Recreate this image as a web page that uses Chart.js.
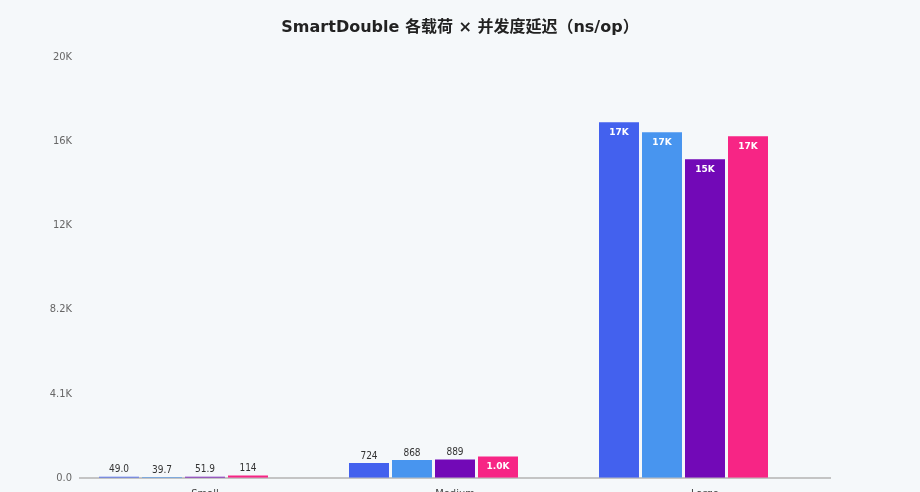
<!DOCTYPE html>
<html>
<head>
<meta charset="utf-8">
<script src="https://cdn.jsdelivr.net/npm/chart.js@4/dist/chart.umd.min.js"></script>
<style>
html,body{margin:0;padding:0;background:#f5f8fa;overflow:hidden;}
#wrap{width:920px;height:503px;}
</style>
</head>
<body>
<div id="wrap"><canvas id="c" width="920" height="503"></canvas></div>
<script>
const categories = ["Small", "Medium", "Large"];
const seriesNames = ["并发 1", "并发 2", "并发 4", "并发 8", "并发 16"];
const series1 = [49.0, 724, 17285];
const series2 = [39.7, 868, 16798];
const series3 = [51.9, 889, 15484];
const series4 = [114, 1030, 16604];
const series5 = [null, null, null];
const colors = ["#4361ee", "#4895ef", "#7209b7", "#f72585", "#3a0ca3"];
const yMax = 20450;

function fmt(v) {
  if (v === 0) return "0.0";
  if (Math.abs(v) >= 1000) return (v / 1000).toPrecision(2) + "K";
  return Number(v).toPrecision(3);
}

const labelPlugin = {
  id: "barLabels",
  afterDatasetsDraw(chart) {
    const ctx = chart.ctx;
    chart.data.datasets.forEach((ds, di) => {
      const meta = chart.getDatasetMeta(di);
      if (meta.hidden) return;
      meta.data.forEach((bar, i) => {
        const v = ds.data[i];
        if (v == null) return;
        const h = bar.base - bar.y;
        ctx.save();
        ctx.textAlign = "center";
        ctx.textBaseline = "middle";
        if (h > 20) {
          ctx.fillStyle = "#ffffff";
          ctx.font = "bold 9px 'DejaVu Sans', sans-serif";
          ctx.fillText(fmt(v), bar.x, bar.y + 10);
        } else {
          ctx.fillStyle = "#333333";
          ctx.font = "10px 'DejaVu Sans Condensed', 'DejaVu Sans', sans-serif";
          ctx.fillText(fmt(v), bar.x, bar.y - 7);
        }
        ctx.restore();
      });
    });
  }
};

const allSeries = [series1, series2, series3, series4, series5];
new Chart(document.getElementById("c"), {
  type: "bar",
  data: {
    labels: categories,
    datasets: allSeries.map((d, i) => ({
      label: seriesNames[i],
      data: d,
      backgroundColor: colors[i],
      borderWidth: 0,
      categoryPercentage: 0.86,
      barPercentage: 0.93
    }))
  },
  options: {
    responsive: false,
    animation: false,
    layout: { padding: 0 },
    plugins: {
      legend: { display: false },
      tooltip: { enabled: false },
      title: {
        display: true,
        text: "SmartDouble 各载荷 × 并发度延迟（ns/op）",
        color: "#222222",
        font: { size: 16, weight: "bold", family: "'DejaVu Sans', 'Noto Sans CJK SC', sans-serif" },
        padding: { top: 18, bottom: 20 }
      }
    },
    scales: {
      x: {
        grid: { display: false },
        border: { display: true, color: "#c4c4c4", width: 2 },
        ticks: { color: "#444444", font: { size: 11, family: "'DejaVu Sans Condensed', 'DejaVu Sans', sans-serif" }, padding: 2 }
      },
      y: {
        min: 0,
        max: yMax,
        grid: { display: false },
        border: { display: false },
        afterFit(scale) { scale.width = 80; },
        ticks: {
          count: 6,
          color: "#666666",
          padding: 0,
          font: { size: 11, family: "'DejaVu Sans Condensed', 'DejaVu Sans', sans-serif" },
          callback: (v) => fmt(v)
        }
      },
      yRight: {
        position: "right",
        display: true,
        grid: { display: false },
        border: { display: false },
        ticks: { display: false },
        afterFit(scale) { scale.width = 90; }
      }
    }
  },
  plugins: [labelPlugin]
});
</script>
</body>
</html>
